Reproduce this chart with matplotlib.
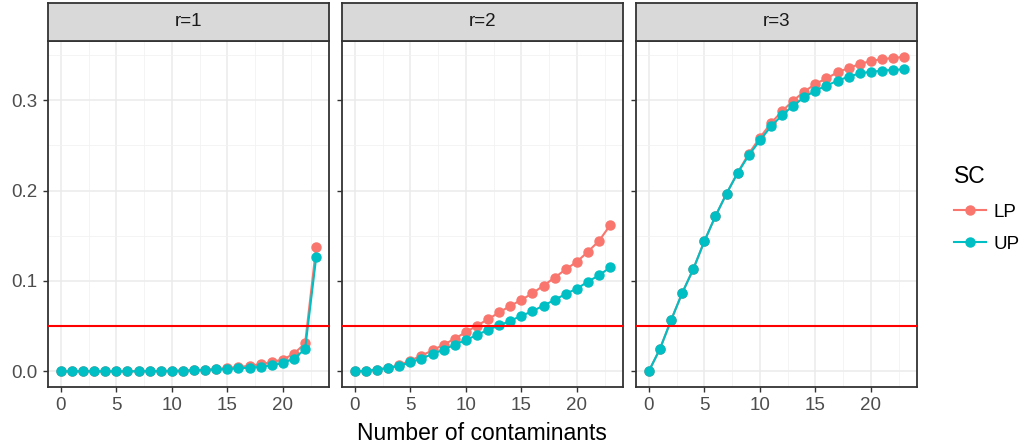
import matplotlib
matplotlib.use("Agg")
import matplotlib.pyplot as plt
from matplotlib.lines import Line2D

contaminants = list(range(24))
panels = ["r=1", "r=2", "r=3"]

lp_r1 = [0, 0, 0, 0, 0, 0, 0, 0, 0.0002, 0.0003, 0.0005, 0.0008, 0.0012, 0.0018,
         0.0025, 0.0037, 0.0048, 0.006, 0.0077, 0.0103, 0.0129, 0.0195, 0.031, 0.138]
up_r1 = [0, 0, 0, 0, 0, 0, 0, 0, 0.0002, 0.0003, 0.0004, 0.0006, 0.001, 0.0015,
         0.002, 0.0026, 0.0033, 0.004, 0.0048, 0.0066, 0.0092, 0.014, 0.0246, 0.1265]
lp_r2 = [0, 0.0004, 0.0018, 0.004, 0.0066, 0.0118, 0.0173, 0.0232, 0.0294, 0.036,
         0.0434, 0.0504, 0.0577, 0.0651, 0.0724, 0.079, 0.0864, 0.0949, 0.1037,
         0.1129, 0.1213, 0.1324, 0.1445, 0.1618]
up_r2 = [0, 0.0004, 0.0018, 0.0037, 0.0059, 0.0099, 0.014, 0.0191, 0.0239, 0.0294,
         0.0346, 0.0401, 0.046, 0.0507, 0.0559, 0.0614, 0.0665, 0.0728, 0.079,
         0.0857, 0.0915, 0.0993, 0.1063, 0.1151]
lp_r3 = [0, 0.0246, 0.0563, 0.0864, 0.1129, 0.1438, 0.1717, 0.1967, 0.2198, 0.2408,
         0.2585, 0.2746, 0.2879, 0.2996, 0.3096, 0.318, 0.3243, 0.3309, 0.3357,
         0.3401, 0.3434, 0.3456, 0.3467, 0.3482]
up_r3 = [0, 0.0246, 0.0563, 0.0864, 0.1129, 0.1438, 0.1717, 0.1967, 0.2195, 0.239,
         0.2555, 0.271, 0.2835, 0.2941, 0.3033, 0.3107, 0.3162, 0.3217, 0.3261,
         0.3298, 0.3316, 0.3327, 0.3338, 0.3342]
threshold = 0.05

series = {"LP": [lp_r1, lp_r2, lp_r3], "UP": [up_r1, up_r2, up_r3]}
colors = {"LP": "#F8766D", "UP": "#00BFC4"}

W, H = 1026, 448
fig = plt.figure(figsize=(W / 100, H / 100), dpi=100)
plt.rcParams["font.family"] = "Liberation Sans"

lefts = [48, 342, 636]
pw = 281
top, bottom = 41, 387
strip_top = 3
dark = "#333333"
small = 13.5
big = 16.5

for i, name in enumerate(panels):
    ax = fig.add_axes([lefts[i] / W, 1 - bottom / H, pw / W, (bottom - top) / H])
    ax.set_xlim(-1.15, 24.15)
    ax.set_ylim(-0.0174, 0.3656)
    ax.set_xticks([0, 5, 10, 15, 20])
    ax.set_xticks([2.5, 7.5, 12.5, 17.5, 22.5], minor=True)
    ax.set_yticks([0.0, 0.1, 0.2, 0.3])
    ax.set_yticks([0.05, 0.15, 0.25, 0.35], minor=True)
    ax.grid(which="major", color="#EBEBEB", lw=1.1, zorder=0)
    ax.grid(which="minor", color="#F2F2F2", lw=0.6, zorder=0)
    ax.set_axisbelow(True)
    for s in ax.spines.values():
        s.set_color(dark)
        s.set_linewidth(1.3)
    ax.tick_params(which="major", length=3.5, width=1.0, color=dark,
                   labelcolor="#4D4D4D", labelsize=small, pad=4)
    ax.tick_params(which="minor", length=0)
    if i == 0:
        ax.set_yticklabels(["0.0", "0.1", "0.2", "0.3"])
    else:
        ax.tick_params(axis="y", which="major", labelleft=False)
    for key in ["LP", "UP"]:
        ax.plot(contaminants, series[key][i], color=colors[key], lw=1.5,
                marker="o", markersize=6.5, zorder=3)
    ax.axhline(threshold, color="red", lw=1.5, zorder=4)

    sax = fig.add_axes([lefts[i] / W, 1 - top / H, pw / W, (top - strip_top) / H])
    sax.set_facecolor("#D9D9D9")
    sax.set_xticks([])
    sax.set_yticks([])
    for s in sax.spines.values():
        s.set_color(dark)
        s.set_linewidth(1.3)
    sax.text(0.5, 0.5, name, ha="center", va="center", fontsize=small,
             color="#1A1A1A", transform=sax.transAxes)

fig.text((48 + 916) / 2 / W, 1 - 433 / H, "Number of contaminants",
         ha="center", va="center", fontsize=big)

handles = [Line2D([], [], color=colors[k], lw=1.5, marker="o", markersize=6.5)
           for k in ["LP", "UP"]]
fig.legend(handles, ["LP", "UP"], title="SC", loc="center left",
           bbox_to_anchor=(937 / W, 1 - 209 / H), frameon=False, fontsize=small,
           title_fontsize=big, handlelength=1.7, handletextpad=0.4,
           labelspacing=0.8, alignment="left")

fig.savefig("out.png", dpi=100)
